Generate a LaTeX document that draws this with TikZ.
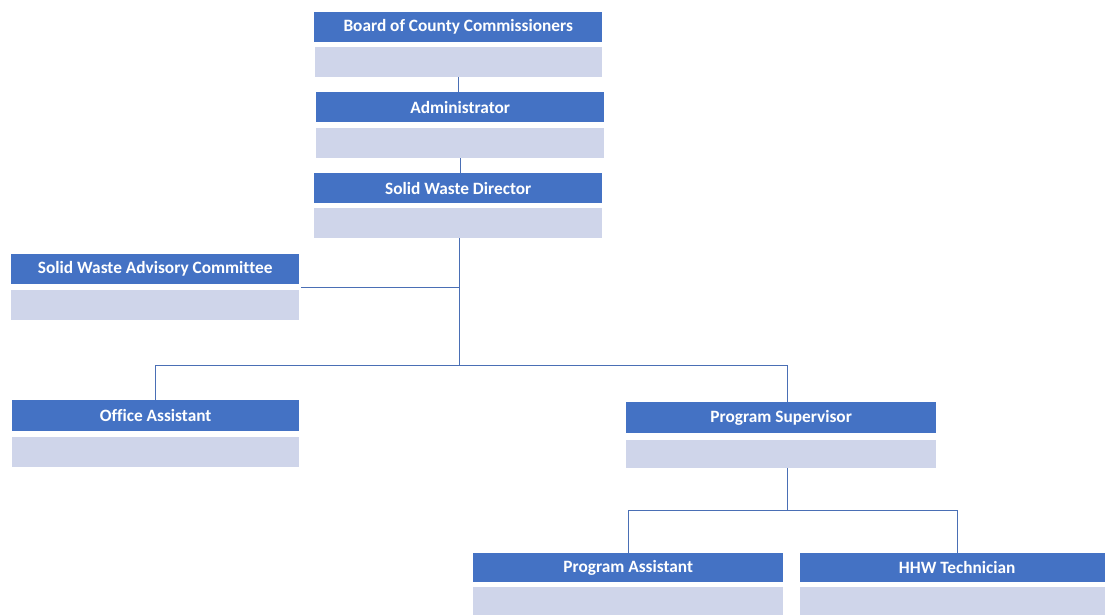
\documentclass[tikz,border=0pt]{standalone}
\usepackage{fontspec}
\setmainfont[Ligatures=NoCommon]{Carlito}
\usetikzlibrary{calc}
\definecolor{hdrblue}{HTML}{4472C4}
\definecolor{lowfill}{HTML}{CFD5EA}
\definecolor{linkcol}{HTML}{4A6FB5}
\tikzset{
  hdr/.style={fill=hdrblue, text=white, font=\fontsize{17.3}{19}\selectfont\bfseries, inner sep=0pt, anchor=north west, minimum height=30pt},
  lowbox/.style={fill=lowfill, inner sep=0pt, anchor=north west, minimum height=30pt},
  link/.style={draw=linkcol, line width=0.9pt}
}
\begin{document}
\begin{tikzpicture}[x=1pt,y=-1pt]
\useasboundingbox[fill=white] (0,0) rectangle (1105,614);
% Board
\node[hdr, minimum width=288pt] (b1) at (314,12) {Board of County Commissioners};
\node[lowbox, minimum width=287pt] (b2) at (315,47) {};
% Administrator
\node[hdr, minimum width=288pt] (a1) at (316,92) {Administrator};
\node[lowbox, minimum width=288pt] (a2) at (316,128) {};
% Director
\node[hdr, minimum width=288pt] (d1) at (314,173) {Solid Waste Director};
\node[lowbox, minimum width=288pt] (d2) at (314,208) {};
% Advisory committee
\node[hdr, minimum width=288pt] (s1) at (11,254) {Solid Waste Advisory Committee};
\node[lowbox, minimum width=288pt] (s2) at (11,290) {};
% Office assistant
\node[hdr, minimum width=287pt, minimum height=31pt] (o1) at (12,400) {Office Assistant};
\node[lowbox, minimum width=287pt] (o2) at (12,437) {};
% Program supervisor
\node[hdr, minimum width=310pt, minimum height=31pt] (p1) at (626,402) {Program Supervisor};
\node[lowbox, minimum width=310pt, minimum height=28pt] (p2) at (626,440) {};
% Program assistant
\node[hdr, minimum width=310pt, minimum height=29pt] (pa1) at (473,553) {Program Assistant};
\node[lowbox, minimum width=310pt, minimum height=30pt] (pa2) at (473,587) {};
% HHW technician
\node[hdr, minimum width=314pt, minimum height=29pt] (h1) at (800,553) {HHW Technician};
\node[lowbox, minimum width=314pt, minimum height=30pt] (h2) at (800,587) {};
% connectors
\coordinate (br) at (459,365);
\coordinate (sj) at ($(s1.south east)!0.5!(s2.north east)+(2,0)$);
\coordinate (br2) at (787,510);
\draw[link] (b2.south) -- (b2.south |- a1.north);
\draw[link] (a2.south) -- (a2.south |- d1.north);
\draw[link] (d2.south -| br) -- (br);
\draw[link] (sj) -- (sj -| br);
\draw[link] (o1.north) -- (o1.north |- br) -- (br -| br2) -- (br2 |- p1.north);
\draw[link] (p2.south -| br2) -- (br2);
\draw[link] (pa1.north) -- (pa1.north |- br2) -- (br2 -| h1.north) -- (h1.north);
\end{tikzpicture}
\end{document}
